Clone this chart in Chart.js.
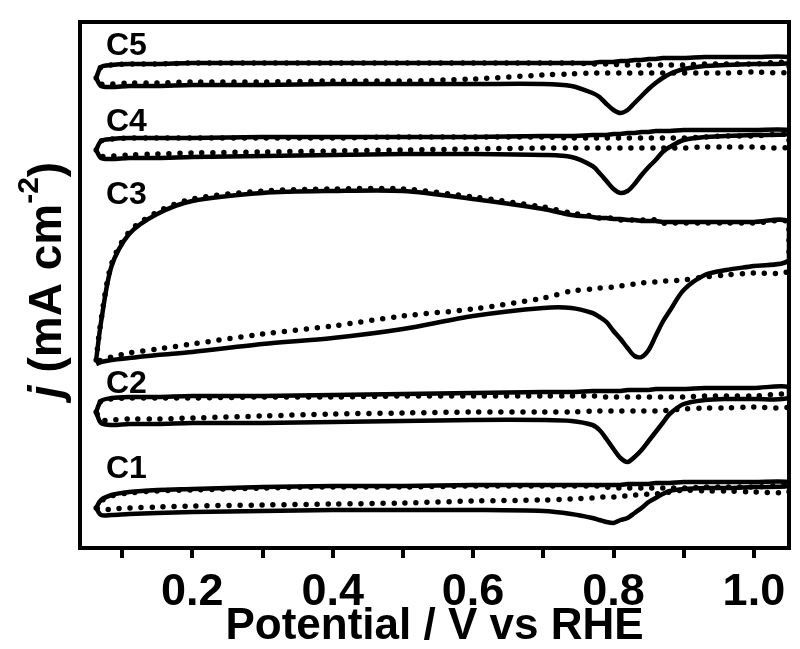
<!DOCTYPE html>
<html>
<head>
<meta charset="utf-8">
<script src="https://cdn.jsdelivr.net/npm/chart.js@4.4.1/dist/chart.umd.min.js"></script>
<style>
  html, body { margin: 0; padding: 0; background: #fff; }
  #wrap { width: 800px; height: 649px; position: relative; }
</style>
</head>
<body>
<div id="wrap"><canvas id="cvChart"></canvas></div>
<script>
// potential grid (V vs RHE), shared by every sweep
const potential = [0.063, 0.07, 0.085, 0.11, 0.15, 0.2, 0.3, 0.4, 0.5, 0.6, 0.7, 0.74, 0.77, 0.78, 0.79,
                   0.80, 0.81, 0.82, 0.83, 0.84, 0.85, 0.86, 0.87, 0.88, 0.9, 0.93, 0.96, 1.0, 1.05];

// current (offset, arbitrary units) - anodic (up) and cathodic (down) branches
const c5Up      = [4.70, 4.81, 4.83, 4.84, 4.84, 4.85, 4.85, 4.85, 4.85, 4.85, 4.85, 4.85, 4.85, 4.86, 4.86, 4.86, 4.87, 4.87, 4.88, 4.88, 4.89, 4.89, 4.90, 4.90, 4.90, 4.91, 4.91, 4.91, 4.91];
const c5Down    = [4.70, 4.62, 4.61, 4.62, 4.62, 4.63, 4.63, 4.64, 4.64, 4.64, 4.64, 4.62, 4.55, 4.51, 4.44, 4.38, 4.35, 4.38, 4.45, 4.52, 4.59, 4.65, 4.70, 4.74, 4.79, 4.82, 4.83, 4.84, 4.85];
const c5DotUp   = [4.70, 4.81, 4.83, 4.84, 4.84, 4.85, 4.85, 4.85, 4.85, 4.85, 4.85, 4.85, 4.84, 4.84, 4.84, 4.84, 4.83, 4.83, 4.83, 4.83, 4.83, 4.83, 4.83, 4.83, 4.83, 4.84, 4.84, 4.84, 4.85];
const c5DotDown = [4.70, 4.64, 4.64, 4.65, 4.65, 4.66, 4.66, 4.67, 4.67, 4.69, 4.73, 4.74, 4.75, 4.75, 4.75, 4.75, 4.75, 4.75, 4.75, 4.75, 4.75, 4.75, 4.75, 4.75, 4.75, 4.75, 4.75, 4.76, 4.76];

const c4Up      = [3.98, 4.07, 4.09, 4.10, 4.10, 4.10, 4.11, 4.11, 4.11, 4.11, 4.12, 4.12, 4.13, 4.13, 4.13, 4.14, 4.14, 4.15, 4.15, 4.16, 4.16, 4.17, 4.17, 4.17, 4.18, 4.18, 4.18, 4.18, 4.18];
const c4Down    = [3.98, 3.90, 3.89, 3.90, 3.90, 3.91, 3.92, 3.93, 3.94, 3.94, 3.93, 3.91, 3.82, 3.75, 3.67, 3.59, 3.55, 3.57, 3.64, 3.73, 3.81, 3.88, 3.96, 4.01, 4.08, 4.11, 4.12, 4.13, 4.14];
const c4DotUp   = [3.98, 4.07, 4.09, 4.10, 4.10, 4.10, 4.10, 4.10, 4.11, 4.11, 4.11, 4.10, 4.10, 4.10, 4.10, 4.10, 4.10, 4.10, 4.10, 4.10, 4.10, 4.10, 4.10, 4.10, 4.10, 4.11, 4.12, 4.12, 4.13];
const c4DotDown = [3.98, 3.92, 3.92, 3.93, 3.94, 3.95, 3.96, 3.97, 3.98, 3.99, 4.00, 4.00, 4.00, 4.00, 4.00, 4.00, 4.00, 4.00, 4.00, 4.00, 4.00, 4.00, 4.00, 4.00, 4.00, 4.01, 4.01, 4.01, 4.01];

const c3Up      = [1.88, 2.26, 2.82, 3.14, 3.34, 3.47, 3.55, 3.57, 3.57, 3.49, 3.39, 3.33, 3.31, 3.30, 3.30, 3.29, 3.29, 3.28, 3.28, 3.27, 3.27, 3.27, 3.26, 3.26, 3.26, 3.26, 3.26, 3.26, 3.26];
const c3Down    = [1.84, 1.86, 1.88, 1.90, 1.93, 1.96, 2.04, 2.10, 2.19, 2.32, 2.40, 2.40, 2.35, 2.31, 2.26, 2.17, 2.09, 2.00, 1.92, 1.91, 1.98, 2.12, 2.26, 2.37, 2.58, 2.73, 2.78, 2.82, 2.88];
const c3DotUp   = [1.88, 2.28, 2.84, 3.16, 3.36, 3.49, 3.57, 3.59, 3.59, 3.51, 3.41, 3.35, 3.32, 3.30, 3.30, 3.30, 3.28, 3.28, 3.28, 3.28, 3.28, 3.28, 3.25, 3.25, 3.25, 3.25, 3.25, 3.25, 3.25];
const c3DotDown = [1.86, 1.88, 1.91, 1.95, 1.99, 2.04, 2.14, 2.22, 2.32, 2.39, 2.50, 2.57, 2.59, 2.60, 2.60, 2.61, 2.62, 2.63, 2.64, 2.65, 2.66, 2.66, 2.67, 2.67, 2.68, 2.71, 2.73, 2.75, 2.78];

const c2Up      = [1.36, 1.47, 1.50, 1.51, 1.51, 1.52, 1.52, 1.53, 1.54, 1.55, 1.56, 1.56, 1.57, 1.57, 1.57, 1.57, 1.57, 1.58, 1.58, 1.58, 1.58, 1.59, 1.59, 1.59, 1.59, 1.60, 1.60, 1.60, 1.61];
const c2Down    = [1.36, 1.25, 1.23, 1.24, 1.24, 1.25, 1.25, 1.26, 1.27, 1.28, 1.28, 1.27, 1.23, 1.18, 1.09, 0.99, 0.90, 0.86, 0.91, 0.98, 1.07, 1.16, 1.25, 1.34, 1.44, 1.48, 1.49, 1.49, 1.50];
const c2DotUp   = [1.36, 1.47, 1.49, 1.50, 1.50, 1.50, 1.51, 1.51, 1.52, 1.52, 1.52, 1.52, 1.52, 1.52, 1.51, 1.51, 1.51, 1.51, 1.51, 1.51, 1.51, 1.51, 1.51, 1.51, 1.51, 1.52, 1.52, 1.52, 1.53];
const c2DotDown = [1.36, 1.28, 1.28, 1.29, 1.29, 1.30, 1.32, 1.34, 1.35, 1.36, 1.36, 1.36, 1.37, 1.37, 1.37, 1.37, 1.37, 1.37, 1.37, 1.37, 1.37, 1.37, 1.37, 1.38, 1.39, 1.40, 1.40, 1.41, 1.41];

const c1Up      = [0.40, 0.48, 0.53, 0.56, 0.58, 0.59, 0.61, 0.62, 0.62, 0.63, 0.63, 0.63, 0.63, 0.63, 0.63, 0.63, 0.63, 0.64, 0.64, 0.64, 0.64, 0.65, 0.65, 0.65, 0.66, 0.66, 0.66, 0.66, 0.66];
const c1Down    = [0.40, 0.33, 0.33, 0.34, 0.35, 0.36, 0.37, 0.38, 0.38, 0.38, 0.37, 0.34, 0.30, 0.28, 0.26, 0.25, 0.28, 0.30, 0.35, 0.40, 0.46, 0.50, 0.54, 0.57, 0.59, 0.60, 0.60, 0.61, 0.62];
const c1DotUp   = [0.40, 0.47, 0.52, 0.55, 0.57, 0.58, 0.60, 0.61, 0.61, 0.62, 0.62, 0.62, 0.62, 0.62, 0.61, 0.60, 0.60, 0.60, 0.60, 0.60, 0.60, 0.60, 0.60, 0.60, 0.60, 0.61, 0.61, 0.61, 0.62];
const c1DotDown = [0.40, 0.38, 0.39, 0.40, 0.41, 0.42, 0.43, 0.44, 0.45, 0.47, 0.48, 0.49, 0.50, 0.51, 0.51, 0.51, 0.52, 0.52, 0.53, 0.53, 0.54, 0.54, 0.55, 0.56, 0.58, 0.57, 0.57, 0.56, 0.56];

const sampleNames = ['C1', 'C2', 'C3', 'C4', 'C5'];
const labelCurrent = [0.79, 1.64, 3.53, 4.26, 5.02];
const xTicks = [0.1, 0.2, 0.3, 0.4, 0.5, 0.6, 0.7, 0.8, 0.9, 1.0];

const FONT = '"Liberation Sans", Arial, Helvetica, sans-serif';

// anodic sweep forward, cathodic sweep back -> one closed loop
function cvLoop(up, down) {
    const pts = potential.map((e, i) => ({ x: e, y: up[i] }));
    for (let i = potential.length - 1; i >= 0; i--) {
        pts.push({ x: potential[i], y: down[i] });
    }
    return pts;
}

function solid(up, down) {
    return {
        data: cvLoop(up, down),
        borderColor: '#000',
        borderWidth: 4.5,
        pointRadius: 0,
        tension: 0.3,
        fill: false
    };
}

function dotted(up, down) {
    return {
        data: cvLoop(up, down),
        borderColor: '#000',
        borderWidth: 5.5,
        borderDash: [0, 11],
        borderCapStyle: 'round',
        pointRadius: 0,
        tension: 0.3,
        fill: false
    };
}

const decorations = {
    id: 'decorations',
    afterDatasetsDraw(chart) {
        const { ctx, chartArea: a, scales: { x, y } } = chart;
        ctx.save();
        ctx.strokeStyle = '#000';
        ctx.lineWidth = 4;
        ctx.strokeRect(a.left, a.top, a.right - a.left, a.bottom - a.top);

        ctx.fillStyle = '#000';
        ctx.font = 'bold 32px ' + FONT;
        ctx.textAlign = 'center';
        ctx.textBaseline = 'middle';
        sampleNames.forEach((name, i) => {
            ctx.fillText(name, x.getPixelForValue(0.106), y.getPixelForValue(labelCurrent[i]));
        });

        // y title: j (mA cm^-2)
        const parts = [
            { t: 'j', f: 'italic bold 46px ' + FONT, dy: 0 },
            { t: ' (mA cm', f: 'bold 46px ' + FONT, dy: 0 },
            { t: '-2', f: 'bold 30px ' + FONT, dy: -18 },
            { t: ')', f: 'bold 46px ' + FONT, dy: 0 }
        ];
        let total = 0;
        parts.forEach(p => { ctx.font = p.f; p.w = ctx.measureText(p.t).width; total += p.w; });
        ctx.translate(48, 280);
        ctx.rotate(-Math.PI / 2);
        ctx.textAlign = 'left';
        ctx.textBaseline = 'middle';
        let cx = -total / 2;
        parts.forEach(p => {
            ctx.font = p.f;
            ctx.fillText(p.t, cx, p.dy);
            cx += p.w;
        });
        ctx.restore();
    }
};

const datasets = [
    dotted(c1DotUp, c1DotDown), solid(c1Up, c1Down),
    dotted(c2DotUp, c2DotDown), solid(c2Up, c2Down),
    dotted(c3DotUp, c3DotDown), solid(c3Up, c3Down),
    dotted(c4DotUp, c4DotDown), solid(c4Up, c4Down),
    dotted(c5DotUp, c5DotDown), solid(c5Up, c5Down)
];

new Chart(document.getElementById('cvChart'), {
    type: 'scatter',
    data: { datasets: datasets },
    options: {
        responsive: true,
        maintainAspectRatio: false,
        animation: false,
        showLine: true,
        layout: { padding: { left: 80, right: 11, top: 22, bottom: 0 } },
        plugins: { legend: { display: false }, tooltip: { enabled: false } },
        scales: {
            x: {
                type: 'linear',
                min: 0.04,
                max: 1.05,
                afterBuildTicks: (scale) => { scale.ticks = xTicks.map(v => ({ value: v })); },
                afterFit: (scale) => { scale.height = 101; },
                ticks: {
                    autoSkip: false,
                    maxRotation: 0,
                    padding: 8,
                    color: '#000',
                    font: { family: FONT, size: 45, weight: 'bold' },
                    callback: (v) => (Math.round(v * 10) % 2 === 0 ? v.toFixed(1) : '')
                },
                grid: {
                    drawOnChartArea: false,
                    drawTicks: true,
                    tickLength: 10,
                    lineWidth: 4,
                    color: '#000'
                },
                border: { display: false },
                title: {
                    display: true,
                    text: 'Potential / V vs RHE',
                    color: '#000',
                    font: { family: FONT, size: 44, weight: 'bold' },
                    padding: { top: 0, bottom: -4 }
                }
            },
            y: {
                display: false,
                min: 0,
                max: 5.26
            }
        }
    },
    plugins: [decorations]
});
</script>
</body>
</html>
